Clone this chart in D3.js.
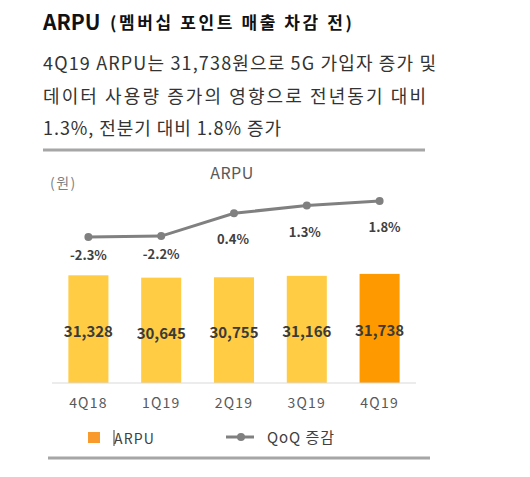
<!DOCTYPE html>
<html><head><meta charset="utf-8">
<script src="https://cdn.jsdelivr.net/npm/d3@7"></script>
<style>
body{margin:0;background:#fff;}
svg{display:block;font-family:"Noto Sans CJK KR","Noto Sans",sans-serif;}
</style></head>
<body><svg id="c" width="530" height="477"></svg>
<script>
const categories = ["4Q18","1Q19","2Q19","3Q19","4Q19"];
const arpuValues = [31328,30645,30755,31166,31738];
const qoqValues = [-2.3,-2.2,0.4,1.3,1.8];
const qoqLabels = ["-2.3%","-2.2%","0.4%","1.3%","1.8%"];
const subtitleLines = ["4Q19 ARPU는 31,738원으로 5G 가입자 증가 및","데이터 사용량 증가의 영향으로 전년동기 대비","1.3%, 전분기 대비 1.8% 증가"];
const subtitleWidths = [393,383,238];

const svg = d3.select("#c");

// Header
svg.append("text").attr("x",43).attr("y",30).attr("fill","#111")
  .attr("font-size",21).attr("font-weight",700).text("ARPU");
svg.append("text").attr("x",110).attr("y",29).attr("fill","#111")
  .attr("font-size",17).attr("font-weight",700)
  .attr("textLength",242).attr("lengthAdjust","spacing").text("(멤버십 포인트 매출 차감 전)");

svg.selectAll("text.sub").data(subtitleLines).enter().append("text")
  .attr("class","sub").attr("x",43).attr("y",(d,i)=>70+i*32.5)
  .attr("font-size",18).attr("fill","#333")
  .attr("textLength",(d,i)=>subtitleWidths[i]).attr("lengthAdjust","spacing").text(d=>d);

svg.append("line").attr("x1",43).attr("x2",425).attr("y1",150).attr("y2",150)
  .attr("stroke","#a6a6a6").attr("stroke-width",3);

// Chart
const x = d3.scaleBand().domain(categories).range([52,416]).paddingInner(0.45).paddingOuter(0.225);
const y = d3.scaleLinear().domain([0,32000]).range([383,273]);
const yq = d3.scaleLinear().domain([-2.3,1.8]).range([237,201]);

svg.append("text").attr("x",232).attr("y",179).attr("text-anchor","middle")
  .attr("font-size",16).attr("letter-spacing",0.5).attr("fill","#595959").text("ARPU");
svg.append("text").attr("x",50).attr("y",188).attr("font-size",14).attr("letter-spacing",1.5).attr("fill","#7f7f7f").text("(원)");

svg.selectAll("rect.bar").data(arpuValues).enter().append("rect")
  .attr("class","bar")
  .attr("x",(d,i)=>x(categories[i])).attr("width",x.bandwidth())
  .attr("y",d=>y(d)).attr("height",d=>y(0)-y(d))
  .attr("fill",(d,i)=>i===4?"#ff9900":"#ffcc44");

svg.selectAll("text.bl").data(arpuValues).enter().append("text")
  .attr("class","bl")
  .attr("x",(d,i)=>x(categories[i])+x.bandwidth()/2)
  .attr("y",(d,i)=>[337,339,338,337,336][i])
  .attr("text-anchor","middle").attr("font-size",15).attr("font-weight",700)
  .attr("fill","#3a3a3a").text(d=>d3.format(",")(d));

// axis
const xAxis = svg.append("g").attr("transform","translate(0,383)")
  .call(d3.axisBottom(x).tickSize(0).tickPadding(15));
xAxis.select(".domain").attr("stroke","#d9d9d9").attr("d","M52,0H416");
xAxis.selectAll("text").attr("font-size",14).attr("letter-spacing",1.2).attr("fill","#595959")
  .attr("font-family","'Noto Sans CJK KR','Noto Sans',sans-serif");

// line
const line = d3.line().x((d,i)=>x(categories[i])+x.bandwidth()/2).y(d=>yq(d));
svg.append("path").datum(qoqValues).attr("d",line).attr("fill","none")
  .attr("stroke","#808080").attr("stroke-width",3);
svg.selectAll("circle.pt").data(qoqValues).enter().append("circle")
  .attr("class","pt").attr("cx",(d,i)=>x(categories[i])+x.bandwidth()/2).attr("cy",d=>yq(d))
  .attr("r",4).attr("fill","#808080");
const lblDx=[0,0,-1,-2,5];
const lblDy=[23,23,31,32,31];
svg.selectAll("text.ql").data(qoqValues).enter().append("text")
  .attr("class","ql")
  .attr("x",(d,i)=>x(categories[i])+x.bandwidth()/2+lblDx[i])
  .attr("y",(d,i)=>yq(d)+lblDy[i])
  .attr("text-anchor","middle").attr("font-size",13).attr("font-weight",700)
  .attr("fill","#404040").text((d,i)=>qoqLabels[i]);

// legend
svg.append("rect").attr("x",88).attr("y",432).attr("width",12).attr("height",11).attr("fill","#f99a2c");
svg.append("line").attr("x1",114).attr("x2",114).attr("y1",430).attr("y2",446).attr("stroke","#404040").attr("stroke-width",1);
svg.append("text").attr("x",114).attr("y",444).attr("font-size",14).attr("letter-spacing",1.2).attr("fill","#404040").text("ARPU");
svg.append("line").attr("x1",226).attr("x2",254).attr("y1",437).attr("y2",437).attr("stroke","#808080").attr("stroke-width",3);
svg.append("circle").attr("cx",241).attr("cy",437).attr("r",4).attr("fill","#808080");
svg.append("text").attr("x",267).attr("y",443).attr("font-size",15).attr("textLength",67).attr("lengthAdjust","spacing").attr("fill","#404040").text("QoQ 증감");

svg.append("line").attr("x1",48).attr("x2",430).attr("y1",458).attr("y2",458)
  .attr("stroke","#a6a6a6").attr("stroke-width",3);
</script></body></html>
